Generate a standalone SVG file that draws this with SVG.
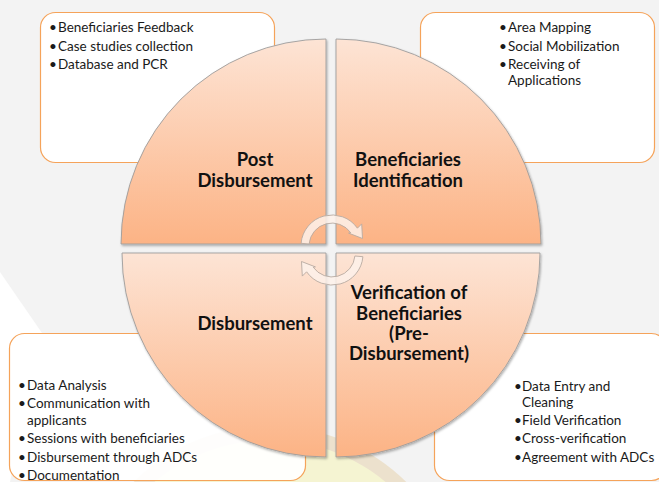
<svg xmlns="http://www.w3.org/2000/svg" width="659" height="482" viewBox="0 0 659 482">
<defs>
<linearGradient id="qgrad" x1="0" y1="0" x2="0" y2="1">
<stop offset="0" stop-color="#fde4d5"/>
<stop offset="1" stop-color="#fcb385"/>
</linearGradient>
<filter id="shadow" x="-10%" y="-10%" width="120%" height="120%">
<feDropShadow dx="1" dy="1.5" stdDeviation="1.2" flood-color="#000" flood-opacity="0.3"/>
</filter>
<style>
.box{fill:#ffffff;fill-opacity:0.93;stroke:#f5a35a;stroke-width:1.2}
.quad{fill:url(#qgrad);stroke:#9d9d9d;stroke-width:0.9;filter:url(#shadow)}
.t{font-family:Lato,"Open Sans","Liberation Sans",sans-serif;font-size:13.5px;fill:#1a1a1a}
.h{font-family:Lato,"Open Sans","Liberation Sans",sans-serif;font-size:18.5px;font-weight:bold;fill:#111;text-anchor:middle}
.arrow{fill:#fdf1ea;fill-opacity:0.85;stroke:#b8aaa2;stroke-width:0.9}
</style>
</defs>
<rect x="0" y="0" width="659" height="482" fill="#f3f3f3"/>
<polygon points="0,272 42,333 10,482 0,482" fill="#ffffff"/>
<circle cx="270" cy="620" r="194" fill="#ece1cd"/>
<circle cx="270" cy="620" r="180" fill="#f5f4d2"/>

<g id="box-post">
<rect class="box" x="40.5" y="12.5" width="234" height="150" rx="15"/>
<text class="t"><tspan x="49" y="32">•</tspan><tspan x="58" y="32">Beneficiaries Feedback</tspan></text>
<text class="t"><tspan x="49" y="50.5">•</tspan><tspan x="58" y="50.5">Case studies collection</tspan></text>
<text class="t"><tspan x="49" y="69">•</tspan><tspan x="58" y="69">Database and PCR</tspan></text>
</g>
<g id="box-identification">
<rect class="box" x="420.5" y="12.5" width="234" height="150" rx="15"/>
<text class="t"><tspan x="499" y="32">•</tspan><tspan x="508" y="32">Area Mapping</tspan></text>
<text class="t"><tspan x="499" y="50.5">•</tspan><tspan x="508" y="50.5">Social Mobilization</tspan></text>
<text class="t"><tspan x="499" y="69">•</tspan><tspan x="508" y="69">Receiving of</tspan></text>
<text class="t"><tspan x="508" y="85">Applications</tspan></text>
</g>
<g id="box-disbursement">
<rect class="box" x="9.5" y="333.5" width="296" height="147" rx="15"/>
<text class="t"><tspan x="18" y="390">•</tspan><tspan x="27" y="390">Data Analysis</tspan></text>
<text class="t"><tspan x="18" y="408">•</tspan><tspan x="27" y="408">Communication with</tspan></text>
<text class="t"><tspan x="27" y="424.5">applicants</tspan></text>
<text class="t"><tspan x="18" y="443">•</tspan><tspan x="27" y="443">Sessions with beneficiaries</tspan></text>
<text class="t"><tspan x="18" y="461.5">•</tspan><tspan x="27" y="461.5">Disbursement through ADCs</tspan></text>
<text class="t"><tspan x="18" y="480">•</tspan><tspan x="27" y="480">Documentation</tspan></text>
</g>
<g id="box-verification">
<rect class="box" x="434.5" y="333.5" width="232" height="147" rx="15"/>
<text class="t"><tspan x="514" y="390.5">•</tspan><tspan x="522" y="390.5">Data Entry and</tspan></text>
<text class="t"><tspan x="522" y="406.5">Cleaning</tspan></text>
<text class="t"><tspan x="514" y="425">•</tspan><tspan x="522" y="425">Field Verification</tspan></text>
<text class="t"><tspan x="514" y="443">•</tspan><tspan x="522" y="443">Cross-verification</tspan></text>
<text class="t"><tspan x="514" y="462">•</tspan><tspan x="522" y="462">Agreement with ADCs</tspan></text>
</g>

<g id="post-disbursement">
<path class="quad" d="M326,244 L121,244 A205,205 0 0 1 326,39 Z"/>
<text class="h"><tspan x="255" y="166">Post</tspan><tspan x="255" y="187">Disbursement</tspan></text>
</g>
<g id="beneficiaries-identification">
<path class="quad" d="M336,244 L336,39 A205,205 0 0 1 541,244 Z"/>
<text class="h"><tspan x="408" y="166">Beneficiaries</tspan><tspan x="408" y="187">Identification</tspan></text>
</g>
<g id="disbursement">
<path class="quad" d="M326,253 L326,457 A204,204 0 0 1 122,253 Z"/>
<text class="h"><tspan x="255" y="330">Disbursement</tspan></text>
</g>
<g id="verification">
<path class="quad" d="M336,253 L540,253 A204,204 0 0 1 336,457 Z"/>
<text class="h"><tspan x="409" y="299">Verification of</tspan><tspan x="409" y="319.5">Beneficiaries</tspan><tspan x="409" y="339.5">(Pre-</tspan><tspan x="409" y="360">Disbursement)</tspan></text>
</g>

<g id="connectors">
<path class="arrow" d="M301.1,243.3 A31,31 0 0 1 357.4,228.2 L361.7,223.9 L362.5,238.5 L348.6,233.1 L350.8,232.8 A23,23 0 0 0 309.1,244 Z"/>
<path class="arrow" d="M362.9,256.7 A31,31 0 0 1 306.6,271.8 L302.3,276.1 L301.5,261.5 L315.4,266.9 L313.2,267.2 A23,23 0 0 0 354.9,256 Z"/>
</g>
</svg>
